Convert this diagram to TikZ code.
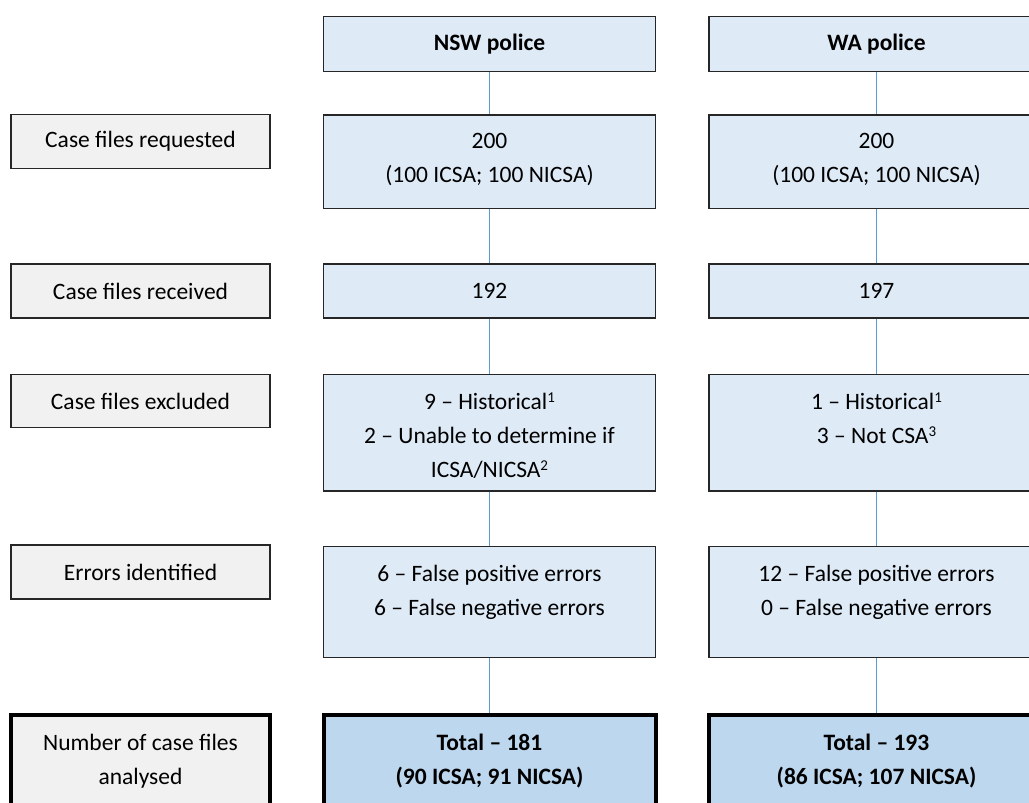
\documentclass[tikz,border=0pt]{standalone}
\usepackage{fontspec}
\setmainfont{Carlito}
\usetikzlibrary{calc}
\definecolor{stagegrey}{HTML}{F1F1F1}
\definecolor{countblue}{HTML}{DEEAF6}
\definecolor{totalblue}{HTML}{BDD7EE}
\definecolor{linkblue}{HTML}{5B9BD5}
\newcommand\fnote[1]{\raisebox{0.3em}{\fontsize{15}{15}\selectfont #1}}
\begin{document}
\begin{tikzpicture}[x=1pt,y=-1pt,every text node part/.style={align=center},
		font=\fontsize{23.5}{34}\selectfont]
		\tikzstyle{stage}=[rectangle,draw=black!85,line width=1.2pt,fill=stagegrey,
							minimum width=259pt,inner sep=0pt]
		\tikzstyle{count}=[rectangle,draw=black!85,line width=1.2pt,fill=countblue,
							minimum width=332pt,inner sep=0pt]
		\tikzstyle{total}=[draw=black,line width=4pt]
		\tikzstyle{heavy}=[font=\fontsize{23.5}{34}\selectfont\bfseries]
		\tikzstyle{words}=[inner sep=0pt,anchor=north]
		\tikzstyle{link}=[draw=linkblue,line width=1.3pt]

		\useasboundingbox (0,0) rectangle (1029,803);
		\clip (0,0) rectangle (1029,803);

		% stages
		\foreach \name/\y/\h/\txt in {req/141.5/53.6/Case files requested,
				rec/291/54/Case files received, exc/401/53.6/Case files excluded,
				err/572/54/Errors identified}
			\node[stage,minimum height=\h pt] (\name) at (140.5,\y) {\txt};
		\node[stage,total,minimum height=92pt] (tot) at (140.5,761) {Number of case files\\analysed};

		% NSW
		\node[count,heavy,minimum height=55pt] (nswhead) at (489.5,44.3) {NSW police};
		\node[count,minimum height=93.3pt] (nswreq) at (489.5,161.7) {};
		\node[words] (nswreqtxt) at ($(nswreq.north)+(0,19)$) {200\\(100 ICSA; 100 NICSA)};
		\node[count,minimum height=54pt] (nswrec) at (489.5,291) {192};
		\node[count,minimum height=116.3pt] (nswexc) at (489.5,432.8) {};
		\node[words] (nswexctxt) at ($(nswexc.north)+(0,19)$)
			{9 \textendash{} Historical\fnote{1}\\2 \textendash{} Unable to determine if\\ICSA/NICSA\fnote{2}};
		\node[count,minimum height=111pt] (nswerr) at (489.5,602.2) {};
		\node[words] (nswerrtxt) at ($(nswerr.north)+(0,19)$)
			{6 \textendash{} False positive errors\\6 \textendash{} False negative errors};
		\node[count,total,heavy,fill=totalblue,minimum height=92pt] (nswtot) at (489.5,761)
			{Total \textendash{} 181\\(90 ICSA; 91 NICSA)};

		% WA
		\node[count,heavy,minimum width=335pt,minimum height=55pt] (wahead) at (876.5,44.3) {WA police};
		\node[count,minimum width=335pt,minimum height=93.3pt] (wareq) at (876.5,161.7) {};
		\node[words] (wareqtxt) at ($(wareq.north)+(0,19)$) {200\\(100 ICSA; 100 NICSA)};
		\node[count,minimum width=335pt,minimum height=54pt] (warec) at (876.5,291) {197};
		\node[count,minimum width=335pt,minimum height=116.3pt] (waexc) at (876.5,432.8) {};
		\node[words] (waexctxt) at ($(waexc.north)+(0,19)$)
			{1 \textendash{} Historical\fnote{1}\\3 \textendash{} Not CSA\fnote{3}};
		\node[count,minimum width=335pt,minimum height=111pt] (waerr) at (876.5,602.2) {};
		\node[words] (waerrtxt) at ($(waerr.north)+(0,19)$)
			{12 \textendash{} False positive errors\\0 \textendash{} False negative errors};
		\node[count,total,heavy,fill=totalblue,minimum width=335pt,minimum height=92pt] (watot) at (876.5,761)
			{Total \textendash{} 193\\(86 ICSA; 107 NICSA)};

		% links
		\foreach \col in {nsw, wa}
			\foreach \a/\b in {head/req, req/rec, rec/exc, exc/err, err/tot}
				\draw[link] (\col\a) -- (\col\b);
\end{tikzpicture}
\end{document}
